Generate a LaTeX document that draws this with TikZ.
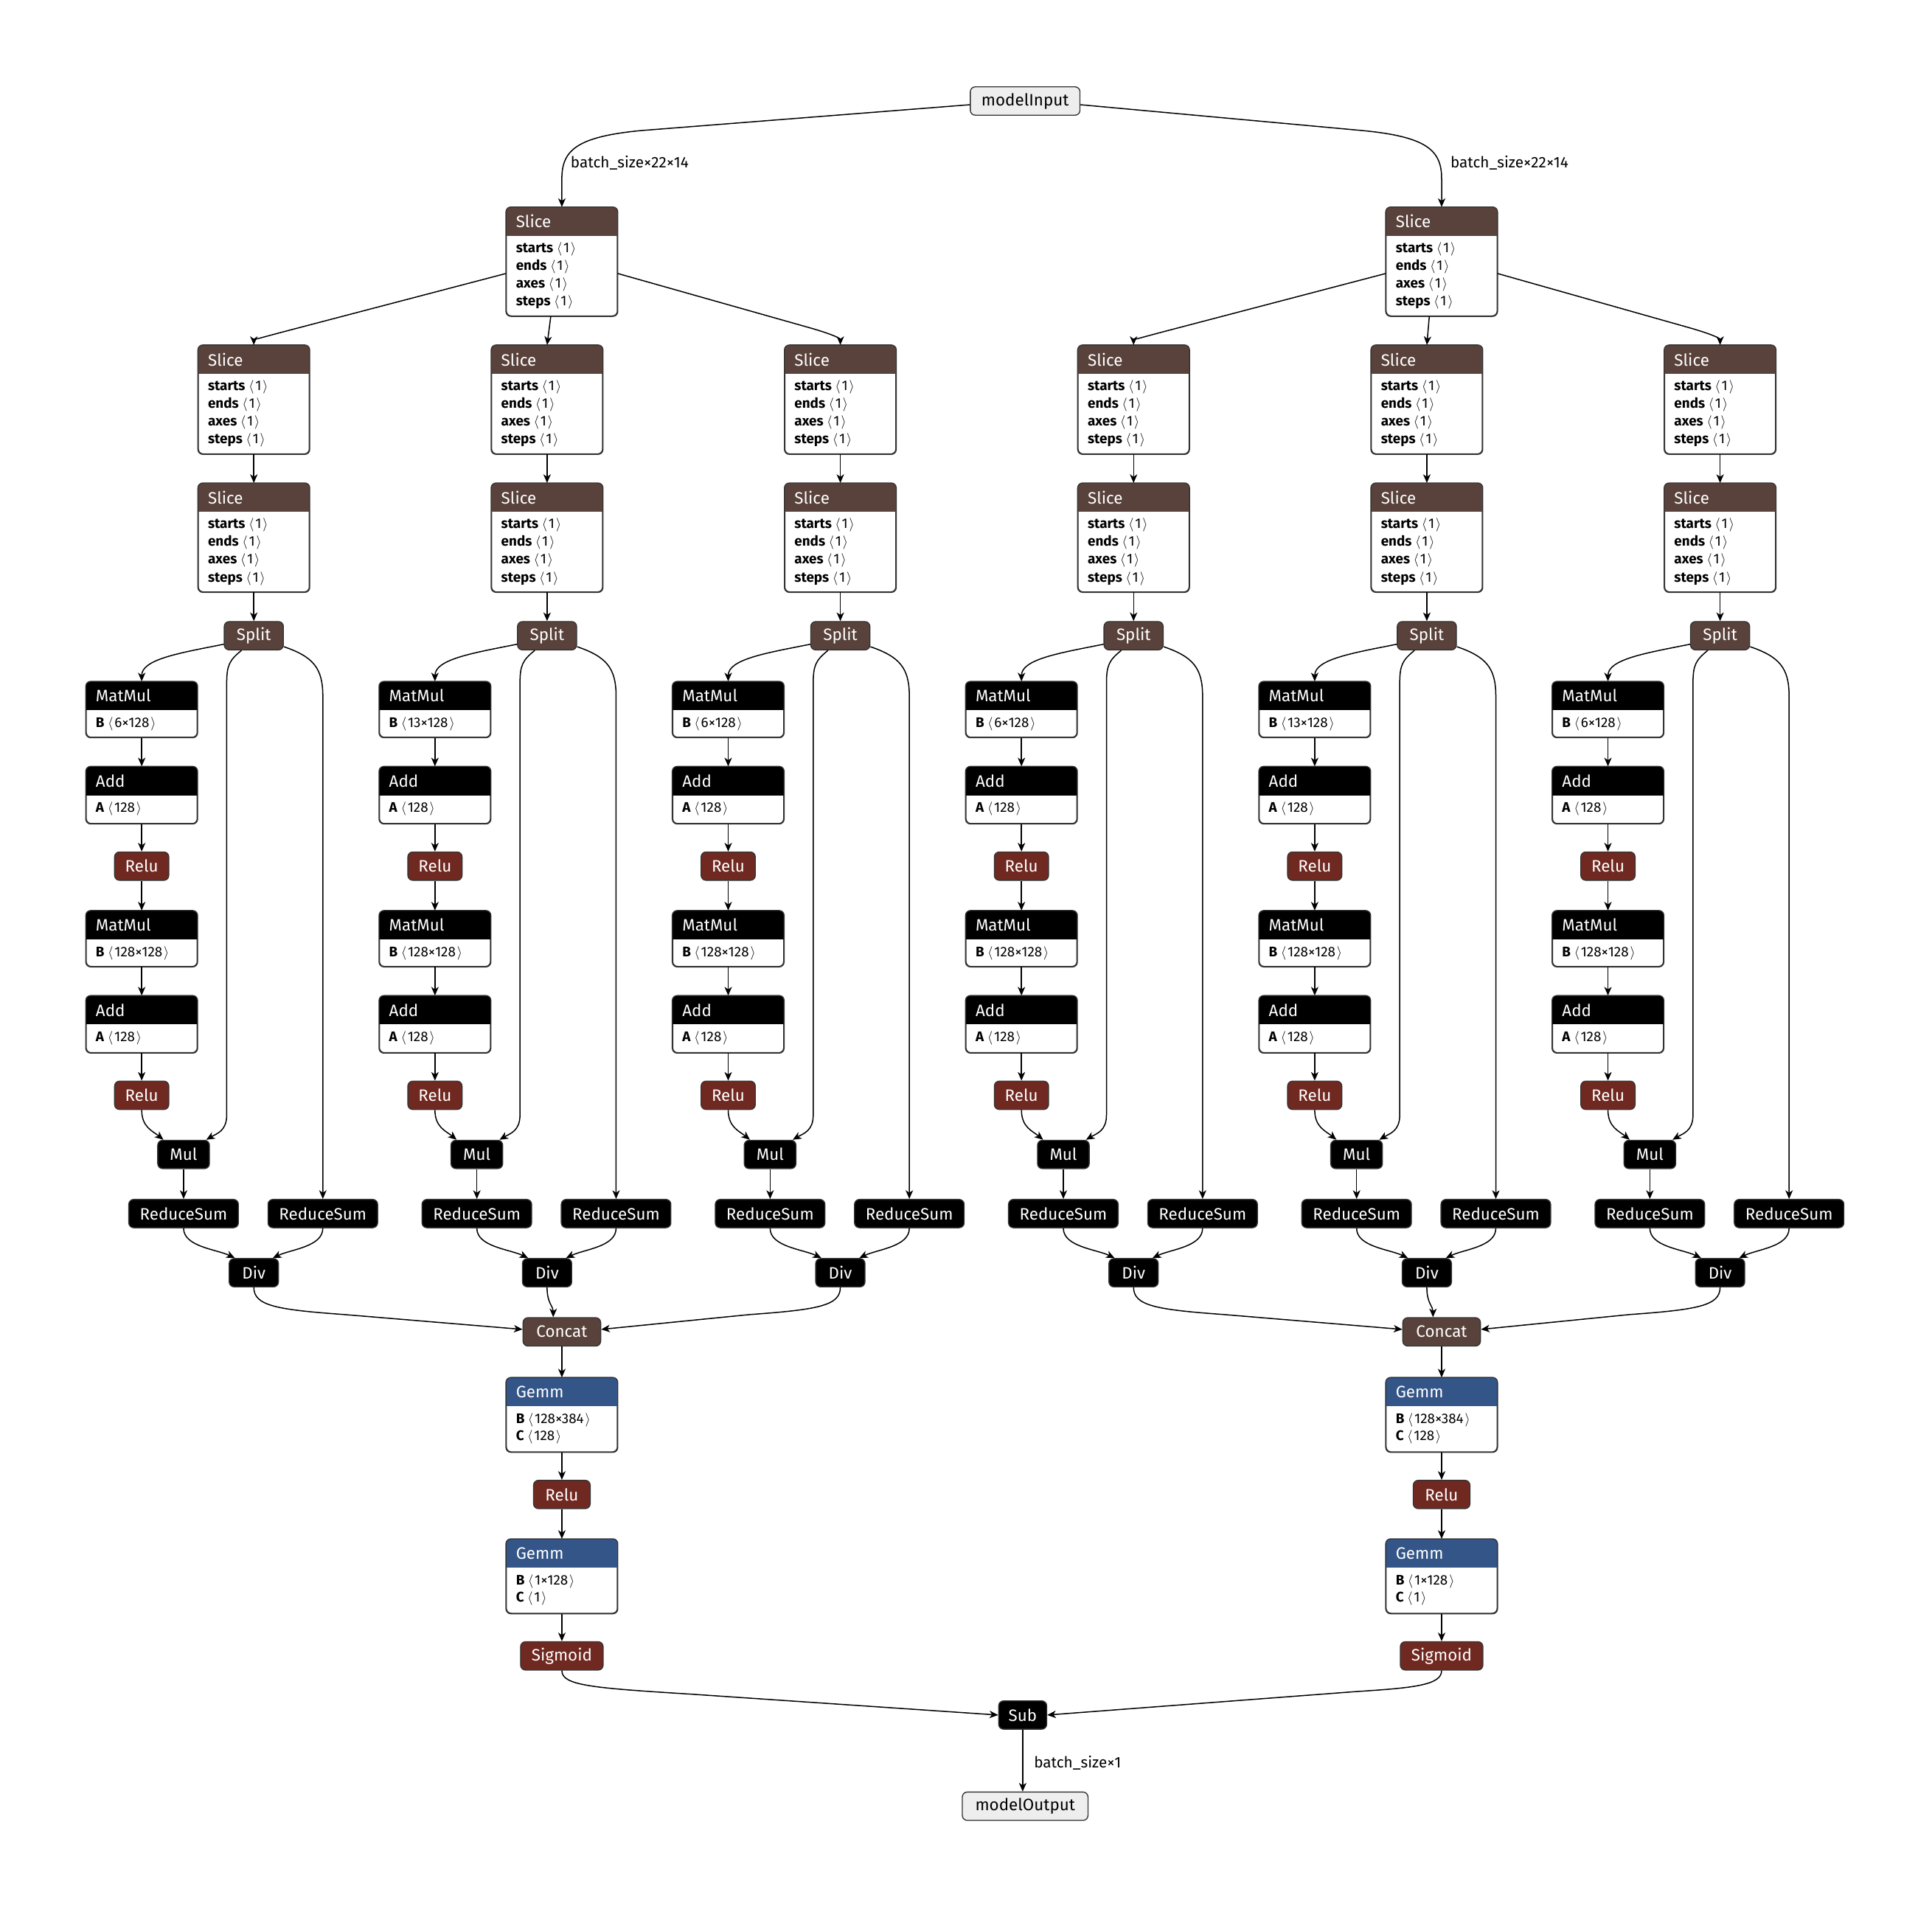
\documentclass[tikz,border=0pt]{standalone}
\usepackage{fontspec}
\setmainfont{Fira Sans}
\usetikzlibrary{arrows.meta}
\definecolor{tensorc}{HTML}{59423B}
\definecolor{actc}{HTML}{702921}
\definecolor{layerc}{HTML}{335588}
\definecolor{bordc}{HTML}{333333}
\definecolor{iofill}{HTML}{EEEEEE}
\newcommand{\tf}{\fontsize{13.4}{15}\selectfont}
\newcommand{\af}{\fontsize{11.3}{13}\selectfont}
\newcommand{\lf}{\fontsize{12.4}{14}\selectfont}
\newcommand{\ang}[1]{\kern0.25em$\langle$\kern0.1em#1\kern0.1em$\rangle$}
\tikzset{
 opframe/.style={draw=bordc, line width=0.8pt, fill=white, rounded corners=4pt, minimum width=90pt, inner sep=0pt},
 simp/.style={draw=bordc, line width=0.8pt, rounded corners=4pt, minimum height=23pt, inner sep=0pt, text=white, font=\tf},
 io/.style={draw=bordc, line width=0.8pt, fill=iofill, rounded corners=4pt, minimum height=23pt, inner sep=0pt, text=black, font=\tf},
 conn/.style={draw=black, line width=0.9pt, -{Stealth[length=7pt,width=6pt,inset=2pt]}},
 lbl/.style={font=\lf, anchor=west, inner sep=0pt}
}
\newcommand{\opbox}[6]{%
 \node[opframe, minimum height=#4, anchor=north] (#1) at (#2,#3) {};
 \begin{scope}
 \clip[rounded corners=4pt] (#1.south west) rectangle (#1.north east);
 \fill[#5] (#1.north west) rectangle ([yshift=-23.5pt]#1.north east);
 \end{scope}
 \draw[bordc, line width=0.8pt, rounded corners=4pt] (#1.south west) rectangle (#1.north east);
 \node[font=\tf, text=white, anchor=west, inner sep=0pt] (#1-t) at ([xshift=8pt,yshift=-11.75pt]#1.north west) {#6};
}
\newcommand{\arow}[4]{\node[font=\af, anchor=west, inner sep=0pt] (#1) at ([xshift=8pt,yshift=-#2pt]#3.north west) {#4};}
\newcommand{\slicebox}[3]{%
 \opbox{#1}{#2}{#3}{88}{tensorc}{Slice}
 \arow{#1-r1}{34}{#1}{\textbf{starts}\ang{1}}
 \arow{#1-r2}{48.5}{#1}{\textbf{ends}\ang{1}}
 \arow{#1-r3}{63}{#1}{\textbf{axes}\ang{1}}
 \arow{#1-r4}{77.5}{#1}{\textbf{steps}\ang{1}}
}
\newcommand{\mmbox}[4]{\opbox{#1}{#2}{#3}{45}{black}{MatMul}\arow{#1-b}{34.5}{#1}{\textbf{B}\ang{#4}}}
\newcommand{\addbox}[3]{\opbox{#1}{#2}{#3}{46}{black}{Add}\arow{#1-a}{34.5}{#1}{\textbf{A}\ang{128}}}
\newcommand{\gemmbox}[5]{\opbox{#1}{#2}{#3}{60}{layerc}{Gemm}
 \arow{#1-b}{34.5}{#1}{\textbf{B}\ang{#4}}
 \arow{#1-c}{48.5}{#1}{\textbf{C}\ang{#5}}}
\begin{document}
\begin{tikzpicture}[x=1pt,y=-1pt]
\useasboundingbox (0,0) rectangle (1568,1549);
\fill[white] (0,0) rectangle (1568,1549);

% input
\node[io, minimum width=89pt] (in) at (832,82) {modelInput};
\slicebox{s0l}{456}{168}
\slicebox{s0r}{1170}{168}
\draw[conn] ([yshift=-3pt]in.west) -- (520,106) .. controls (468,111) and (456,122) .. (456,145) -- (s0l.north);
\draw[conn] ([yshift=-3pt]in.east) -- (1106,106) .. controls (1158,111) and (1170,122) .. (1170,145) -- (s0r.north);
\node[lbl] (lb1) at (463,132) {batch\_size×22×14};
\node[lbl] (lb2) at (1177,132) {batch\_size×22×14};

\foreach \s/\i/\b in {206/1/6,444/2/13,682/3/6,920/4/6,1158/5/13,1396/6/6}{
 \slicebox{p\i}{\s}{280}
 \slicebox{q\i}{\s}{392}
 \node[simp, fill=tensorc, minimum width=48pt] (sp\i) at (\s,516) {Split};
 \mmbox{ma\i}{\s-91}{553}{\b×128}
 \addbox{aa\i}{\s-91}{622}
 \node[simp, fill=actc, minimum width=44pt] (ra\i) at (\s-91,703) {Relu};
 \mmbox{mb\i}{\s-91}{739}{128×128}
 \addbox{ab\i}{\s-91}{808}
 \node[simp, fill=actc, minimum width=44pt] (rb\i) at (\s-91,889) {Relu};
 \node[simp, fill=black, minimum width=42pt] (mu\i) at (\s-57,937) {Mul};
 \node[simp, fill=black, minimum width=89pt] (rs\i) at (\s-57,985) {ReduceSum};
 \node[simp, fill=black, minimum width=89pt] (rt\i) at (\s+56,985) {ReduceSum};
 \node[simp, fill=black, minimum width=40pt] (dv\i) at (\s,1033) {Div};
 \draw[conn] (p\i.south) -- (q\i.north);
 \draw[conn] (q\i.south) -- (sp\i.north);
 \draw[conn] ([yshift=5pt]sp\i.south west) .. controls (\s-60,530) and (\s-91,535) .. (ma\i.north);
 \draw[conn] ([xshift=-10pt]sp\i.south) .. controls (\s-20,536) and (\s-22,540) .. (\s-22,555) -- (\s-22,905) .. controls (\s-22,918) and (\s-30,920) .. ([xshift=-3pt]mu\i.north east);
 \draw[conn] ([yshift=3pt]sp\i.south east) .. controls (\s+48,533) and (\s+56,542) .. (\s+56,565) -- (rt\i.north);
 \draw[conn] (ma\i.south) -- (aa\i.north);
 \draw[conn] (aa\i.south) -- (ra\i.north);
 \draw[conn] (ra\i.south) -- (mb\i.north);
 \draw[conn] (mb\i.south) -- (ab\i.north);
 \draw[conn] (ab\i.south) -- (rb\i.north);
 \draw[conn] (rb\i.south) .. controls (\s-91,915) and (\s-82,918) .. ([xshift=5pt]mu\i.north west);
 \draw[conn] (mu\i.south) -- (rs\i.north);
 \draw[conn] (rs\i.south) .. controls (\s-57,1012) and (\s-30,1014) .. ([xshift=5pt]dv\i.north west);
 \draw[conn] (rt\i.south) .. controls (\s+56,1012) and (\s+30,1014) .. ([xshift=-5pt]dv\i.north east);
}

% slice fan-out
\draw[conn] ([yshift=-54pt]s0l.north west) -- (235,268) .. controls (212,274) and (206,276) .. (p1.north);
\draw[conn] ([xshift=-9pt]s0l.south) -- (p2.north);
\draw[conn] ([yshift=-54pt]s0l.north east) -- (657,266) .. controls (678,272) and (682,275) .. (p3.north);
\draw[conn] ([yshift=-54pt]s0r.north west) -- (949,268) .. controls (926,274) and (920,276) .. (p4.north);
\draw[conn] ([xshift=-10pt]s0r.south) -- (p5.north);
\draw[conn] ([yshift=-54pt]s0r.north east) -- (1371,266) .. controls (1392,272) and (1396,275) .. (p6.north);

% concat
\node[simp, fill=tensorc, minimum width=63pt] (ca) at (456,1081) {Concat};
\node[simp, fill=tensorc, minimum width=63pt] (cb) at (1170,1081) {Concat};
\draw[conn] (dv1.south) .. controls (206,1060) and (225,1063) .. (280,1067) -- ([yshift=2pt]ca.west);
\draw[conn] (dv2.south) .. controls (444,1058) and (449,1060) .. ([xshift=-7pt]ca.north);
\draw[conn] (dv3.south) .. controls (682,1060) and (663,1063) .. (608,1067) -- ([yshift=2pt]ca.east);
\draw[conn] (dv4.south) .. controls (920,1060) and (939,1063) .. (994,1067) -- ([yshift=2pt]cb.west);
\draw[conn] (dv5.south) .. controls (1158,1058) and (1163,1060) .. ([xshift=-7pt]cb.north);
\draw[conn] (dv6.south) .. controls (1396,1060) and (1377,1063) .. (1322,1067) -- ([yshift=2pt]cb.east);

% heads
\gemmbox{ga1}{456}{1118}{128×384}{128}
\node[simp, fill=actc, minimum width=46pt] (gr1) at (456,1213) {Relu};
\gemmbox{gb1}{456}{1249}{1×128}{1}
\node[simp, fill=actc, minimum width=67pt] (sgl) at (456,1344) {Sigmoid};
\gemmbox{ga2}{1170}{1118}{128×384}{128}
\node[simp, fill=actc, minimum width=46pt] (gr2) at (1170,1213) {Relu};
\gemmbox{gb2}{1170}{1249}{1×128}{1}
\node[simp, fill=actc, minimum width=67pt] (sgr) at (1170,1344) {Sigmoid};
\draw[conn] (ca.south) -- (ga1.north);
\draw[conn] (ga1.south) -- (gr1.north);
\draw[conn] (gr1.south) -- (gb1.north);
\draw[conn] (gb1.south) -- (sgl.north);
\draw[conn] (cb.south) -- (ga2.north);
\draw[conn] (ga2.south) -- (gr2.north);
\draw[conn] (gr2.south) -- (gb2.north);
\draw[conn] (gb2.south) -- (sgr.north);

% output
\node[simp, fill=black, minimum width=39pt] (sub) at (830,1392) {Sub};
\node[io, minimum width=102pt] (out) at (832,1466) {modelOutput};
\draw[conn] (sgl.south) .. controls (456,1368) and (480,1370) .. (560,1375) -- (sub.west);
\draw[conn] (sgr.south) .. controls (1170,1368) and (1146,1370) .. (1100,1373) -- (sub.east);
\draw[conn] (sub.south) -- (sub.south |- out.north);
\node[lbl] (lb3) at (839,1431) {batch\_size×1};
\end{tikzpicture}
\end{document}
